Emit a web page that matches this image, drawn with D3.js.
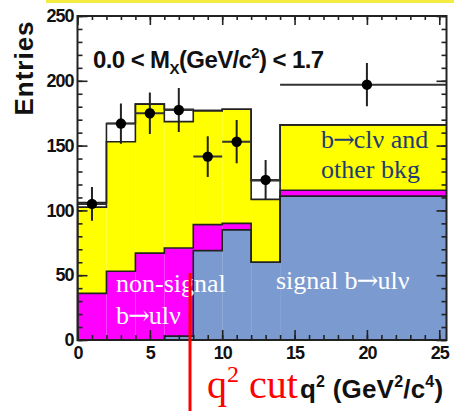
<!DOCTYPE html>
<html>
<head>
<meta charset="utf-8">
<script src="https://cdn.jsdelivr.net/npm/d3@7"></script>
<style>
  body { margin: 0; background: #fff; }
  .sans { font-family: "Liberation Sans", Arial, sans-serif; font-weight: bold; }
  .serif { font-family: "Liberation Serif", "Times New Roman", serif; }
  .arrow { font-family: "DejaVu Serif", serif; }
</style>
</head>
<body>
<svg id="chart" width="454" height="411"></svg>
<script>
// q^2 bins (GeV^2/c^4)
const binEdges = [0, 2, 4, 6, 8, 10, 12, 14, 26];

// MC components per bin (stacked bottom -> top)
const signal    = [0, 0, 0, 3, 69, 85, 60, 111];
const nonSignal = [36, 53, 67, 68, 20, 5, 0, 4.5];
const bToC      = [66.5, 100, 115, 97.5, 88, 88, 48.5, 50.5];
const otherMC   = [3.5, 14, 0, 9.5, 0, 0, 14.5, 0];

// data points
const dataX   = [1, 3, 5, 7, 9, 11, 13, 20];
const dataY   = [105, 167, 175, 177.5, 141.5, 153, 123.5, 197];
const dataErr = [13, 15.5, 16, 17, 15.7, 16.7, 15.4, 16.7];
const dataLo  = [0, 2, 4, 6, 8, 10, 12, 14];
const dataHi  = [2, 4, 6, 8, 10, 12, 14, 26];

const xTicks = [0, 5, 10, 15, 20, 25];
const yTicks = [0, 50, 100, 150, 200, 250];

const colors = { signal: "#7b9ad0", nonSignal: "#ff00ff", bToC: "#ffff00", otherMC: "#ffffff" };

const svg = d3.select("#chart");
const plot = { left: 77.5, right: 446.5, top: 16, bottom: 340 };

const x = d3.scaleLinear().domain([0, 25.5]).range([plot.left, plot.right]);
const y = d3.scaleLinear().domain([0, 250]).range([plot.bottom, plot.top]);

// slide decoration on top
svg.append("rect").attr("x", 46).attr("y", 0).attr("width", 408).attr("height", 3).attr("fill", "#f4ec40");

svg.append("clipPath").attr("id", "clip")
  .append("rect")
  .attr("x", plot.left).attr("y", plot.top)
  .attr("width", plot.right - plot.left).attr("height", plot.bottom - plot.top);

const rows = binEdges.slice(0, -1).map((e, i) => ({
  x0: e, x1: binEdges[i + 1],
  signal: signal[i], nonSignal: nonSignal[i], bToC: bToC[i], otherMC: otherMC[i]
}));

const keys = ["signal", "nonSignal", "bToC", "otherMC"];
const series = d3.stack().keys(keys)(rows);

const g = svg.append("g").attr("clip-path", "url(#clip)");

// filled bins
series.forEach(s => {
  g.selectAll(null)
    .data(s)
    .enter()
    .append("rect")
    .attr("x", d => x(d.data.x0))
    .attr("width", d => x(d.data.x1) - x(d.data.x0))
    .attr("y", d => y(d[1]))
    .attr("height", d => y(d[0]) - y(d[1]))
    .attr("fill", colors[s.key]);
});

// step outlines of each stacked layer
const stepLine = d3.line().x(p => x(p[0])).y(p => y(p[1]));
series.forEach(s => {
  const pts = [[s[0].data.x0, 0]];
  s.forEach(d => { pts.push([d.data.x0, d[1]]); pts.push([d.data.x1, d[1]]); });
  pts.push([s[s.length - 1].data.x1, 0]);
  g.append("path")
    .attr("d", stepLine(pts))
    .attr("fill", "none")
    .attr("stroke", "#222")
    .attr("stroke-width", 1.6);
});

// data points with error bars
const pts = dataX.map((v, i) => ({ x: v, y: dataY[i], e: dataErr[i], lo: dataLo[i], hi: dataHi[i] }));
const pg = g.append("g");
pg.selectAll(".eh").data(pts).enter().append("line")
  .attr("x1", d => x(d.lo)).attr("x2", d => x(d.hi))
  .attr("y1", d => y(d.y)).attr("y2", d => y(d.y))
  .attr("stroke", "#333").attr("stroke-width", 2);
pg.selectAll(".ev").data(pts).enter().append("line")
  .attr("x1", d => x(d.x)).attr("x2", d => x(d.x))
  .attr("y1", d => y(d.y - d.e)).attr("y2", d => y(d.y + d.e))
  .attr("stroke", "#222").attr("stroke-width", 2);
pg.selectAll("circle").data(pts).enter().append("circle")
  .attr("cx", d => x(d.x)).attr("cy", d => y(d.y)).attr("r", 5.2)
  .attr("fill", "#000");

// labels inside the plot; arrow drawn from a font with a long glyph
function arrowLabel(xp, yp, before, after, fill) {
  const t = svg.append("text").attr("class", "serif")
    .attr("x", xp).attr("y", yp).attr("font-size", 26).attr("fill", fill);
  t.append("tspan").text(before);
  t.append("tspan").attr("class", "arrow").attr("dx", -1).text("\u2192");
  t.append("tspan").attr("dx", -1).text(after);
}
arrowLabel(321, 148, "b", "cl\u03bd and", "#1e3c74");
svg.append("text").attr("class", "serif")
  .attr("x", 321).attr("y", 178).attr("font-size", 26).attr("fill", "#1e3c74")
  .text("other bkg");
svg.append("text").attr("class", "serif")
  .attr("x", 116).attr("y", 292).attr("font-size", 26).attr("fill", "#fff")
  .text("non-signal");
arrowLabel(116, 324, "b", "ul\u03bd", "#fff");
arrowLabel(276, 289, "signal b", "ul\u03bd", "#fff");

// axes (ROOT style: ticks inside, on all four sides)
function styleAxis(sel) {
  sel.select(".domain").remove();
  sel.selectAll("line").attr("stroke", "#222").attr("stroke-width", 1.6);
  sel.selectAll("text").attr("class", "sans").attr("font-size", 18).attr("fill", "#111")
    .attr("letter-spacing", -1);
}

svg.append("g").attr("transform", `translate(${plot.left},0)`)
  .call(d3.axisLeft(y).tickValues(yTicks).tickSize(-10).tickPadding(4))
  .call(styleAxis);
svg.append("g").attr("transform", `translate(${plot.left},0)`)
  .call(d3.axisLeft(y).tickValues(d3.range(0, 251, 10)).tickSize(-5).tickFormat(""))
  .call(styleAxis);
svg.append("g").attr("transform", `translate(${plot.right},0)`)
  .call(d3.axisRight(y).tickValues(yTicks).tickSize(-10).tickFormat(""))
  .call(styleAxis);
svg.append("g").attr("transform", `translate(${plot.right},0)`)
  .call(d3.axisRight(y).tickValues(d3.range(0, 251, 10)).tickSize(-5).tickFormat(""))
  .call(styleAxis);
svg.append("g").attr("transform", `translate(0,${plot.bottom})`)
  .call(d3.axisBottom(x).tickValues(xTicks).tickSize(-10).tickPadding(6))
  .call(styleAxis);
svg.append("g").attr("transform", `translate(0,${plot.bottom})`)
  .call(d3.axisBottom(x).tickValues(d3.range(0, 26, 1)).tickSize(-5).tickFormat(""))
  .call(styleAxis);
svg.append("g").attr("transform", `translate(0,${plot.top})`)
  .call(d3.axisTop(x).tickValues(xTicks).tickSize(-9).tickFormat(""))
  .call(styleAxis);
svg.append("g").attr("transform", `translate(0,${plot.top})`)
  .call(d3.axisTop(x).tickValues(d3.range(0, 26, 1)).tickSize(-4).tickFormat(""))
  .call(styleAxis);

// frame
svg.append("rect")
  .attr("x", plot.left).attr("y", plot.top)
  .attr("width", plot.right - plot.left).attr("height", plot.bottom - plot.top)
  .attr("fill", "none").attr("stroke", "#222").attr("stroke-width", 2);

// title inside the frame
const title = svg.append("text").attr("class", "sans")
  .attr("x", 93).attr("y", 68).attr("font-size", 24).attr("fill", "#111").attr("letter-spacing", -0.6);
title.append("tspan").text("0.0 < M");
title.append("tspan").attr("dy", 6).attr("font-size", 15).text("X");
title.append("tspan").attr("dy", -6).text("(GeV/c");
title.append("tspan").attr("dy", -10).attr("font-size", 15).text("2");
title.append("tspan").attr("dy", 10).text(") < 1.7");

// y axis title
svg.append("text").attr("class", "sans")
  .attr("transform", "translate(33,68) rotate(-90)")
  .attr("text-anchor", "middle").attr("font-size", 26).attr("fill", "#111")
  .attr("letter-spacing", 1)
  .text("Entries");

// q^2 cut marker
svg.append("line")
  .attr("x1", 190).attr("x2", 190).attr("y1", 273).attr("y2", 411)
  .attr("stroke", "#ff0000").attr("stroke-width", 3);
const cut = svg.append("text").attr("class", "serif")
  .attr("x", 207).attr("y", 398).attr("font-size", 40).attr("fill", "#ff0000");
cut.append("tspan").text("q");
cut.append("tspan").attr("dy", -16).attr("font-size", 24).text("2");
cut.append("tspan").attr("dy", 16).text(" cut");

// x axis title
const xt = svg.append("text").attr("class", "sans")
  .attr("x", 300).attr("y", 398).attr("font-size", 26).attr("fill", "#111").attr("letter-spacing", 0.2);
xt.append("tspan").text("q");
xt.append("tspan").attr("dy", -11).attr("font-size", 16).text("2");
xt.append("tspan").attr("dy", 11).text(" (GeV");
xt.append("tspan").attr("dy", -11).attr("font-size", 16).text("2");
xt.append("tspan").attr("dy", 11).text("/c");
xt.append("tspan").attr("dy", -11).attr("font-size", 16).text("4");
xt.append("tspan").attr("dy", 11).text(")");
</script>
</body>
</html>
